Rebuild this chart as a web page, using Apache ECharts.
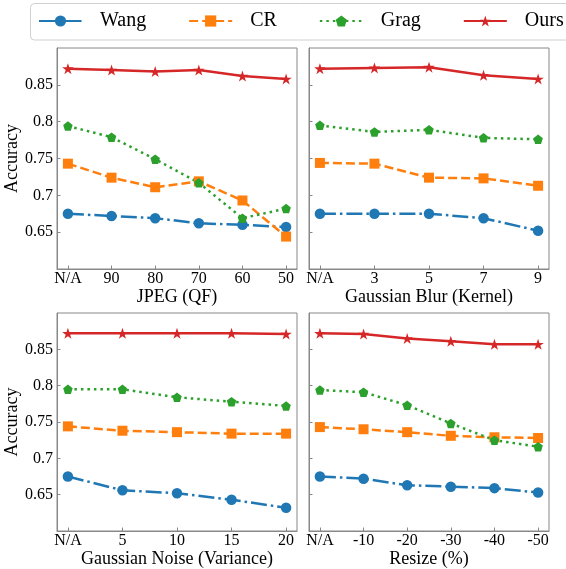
<!DOCTYPE html>
<html>
<head>
<meta charset="utf-8">
<script src="https://cdn.jsdelivr.net/npm/echarts@6/dist/echarts.min.js"></script>
<style>
  html, body { margin: 0; padding: 0; background: #fff; }
  #chart { width: 566px; height: 569px; }
</style>
</head>
<body>
<div id="chart"></div>
<script>
  // tick labels for each panel
  const jpegLabels = ['N/A', '90', '80', '70', '60', '50'];
  const blurLabels = ['N/A', '3', '5', '7', '9'];
  const noiseLabels = ['N/A', '5', '10', '15', '20'];
  const resizeLabels = ['N/A', '-10', '-20', '-30', '-40', '-50'];
  const yTicks = [0.65, 0.7, 0.75, 0.8, 0.85];

  // JPEG (QF)
  const wangJpeg = [0.675, 0.672, 0.669, 0.662, 0.660, 0.657];
  const crJpeg = [0.743, 0.724, 0.711, 0.719, 0.693, 0.644];
  const gragJpeg = [0.794, 0.779, 0.749, 0.717, 0.669, 0.682];
  const oursJpeg = [0.872, 0.870, 0.868, 0.870, 0.862, 0.858];

  // Gaussian Blur (Kernel)
  const wangBlur = [0.675, 0.675, 0.675, 0.669, 0.652];
  const crBlur = [0.744, 0.743, 0.724, 0.723, 0.713];
  const gragBlur = [0.795, 0.786, 0.789, 0.778, 0.776];
  const oursBlur = [0.872, 0.873, 0.874, 0.863, 0.858];

  // Gaussian Noise (Variance)
  const wangNoise = [0.675, 0.656, 0.652, 0.643, 0.632];
  const crNoise = [0.744, 0.738, 0.736, 0.734, 0.734];
  const gragNoise = [0.795, 0.795, 0.784, 0.778, 0.772];
  const oursNoise = [0.872, 0.872, 0.872, 0.872, 0.871];

  // Resize (%)
  const wangResize = [0.675, 0.672, 0.663, 0.661, 0.659, 0.653];
  const crResize = [0.743, 0.740, 0.736, 0.731, 0.729, 0.728];
  const gragResize = [0.794, 0.791, 0.773, 0.748, 0.725, 0.716];
  const oursResize = [0.872, 0.871, 0.865, 0.861, 0.857, 0.857];

  const FONT = '"Liberation Serif", "DejaVu Serif", serif';
  const SPINE = '#888';
  const pentagon = 'path://M0,-1 L0.951,-0.309 L0.588,0.809 L-0.588,0.809 L-0.951,-0.309 Z';
  const star = 'path://M0,-1 L0.2245,-0.309 L0.951,-0.309 L0.363,0.118 L0.588,0.809 L0,0.382 L-0.588,0.809 L-0.363,0.118 L-0.951,-0.309 L-0.2245,-0.309 Z';

  const methods = [
    { name: 'Wang', color: '#1f77b4', symbol: 'circle', size: 10.5, dash: [16, 4, 2.5, 4] },
    { name: 'CR', color: '#ff7f0e', symbol: 'rect', size: 10, dash: [9, 4] },
    { name: 'Grag', color: '#2ca02c', symbol: pentagon, size: 9.5, dash: [2.5, 4] },
    { name: 'Ours', color: '#d62728', symbol: star, size: [11.5, 11], dash: 'solid' }
  ];

  const panels = [
    { labels: jpegLabels, title: 'JPEG (QF)', data: [wangJpeg, crJpeg, gragJpeg, oursJpeg], left: 57, top: 48, yLabel: true },
    { labels: blurLabels, title: 'Gaussian Blur (Kernel)', data: [wangBlur, crBlur, gragBlur, oursBlur], left: 309, top: 48, yLabel: false },
    { labels: noiseLabels, title: 'Gaussian Noise (Variance)', data: [wangNoise, crNoise, gragNoise, oursNoise], left: 57, top: 313, yLabel: true },
    { labels: resizeLabels, title: 'Resize (%)', data: [wangResize, crResize, gragResize, oursResize], left: 309, top: 313, yLabel: false }
  ];

  const grid = [], xAxis = [], yAxis = [], series = [];
  panels.forEach(function (p, k) {
    const n = p.labels.length;
    const pad = (n - 1) * 0.05;
    const idx = p.labels.map(function (_, i) { return i; });
    grid.push({ left: p.left, top: p.top, width: 240, height: 221, show: true, borderColor: SPINE, borderWidth: 1 });
    xAxis.push({
      type: 'value', gridIndex: k, min: -pad, max: n - 1 + pad,
      name: p.title, nameLocation: 'middle', nameGap: 19,
      nameTextStyle: { fontFamily: FONT, fontSize: 18, color: '#000' },
      axisLine: { show: true, onZero: false, lineStyle: { color: SPINE } },
      axisTick: { show: true, inside: true, length: 3.5, customValues: idx, lineStyle: { color: SPINE } },
      axisLabel: {
        customValues: idx, margin: 2, fontFamily: FONT, fontSize: 16, color: '#000',
        formatter: function (v) { return p.labels[Math.round(v)]; }
      },
      splitLine: { show: false }
    });
    yAxis.push({
      type: 'value', gridIndex: k, min: 0.6, max: 0.9,
      name: p.yLabel ? 'Accuracy' : '', nameLocation: 'middle', nameGap: 29, nameRotate: 90,
      nameTextStyle: { fontFamily: FONT, fontSize: 18, color: '#000' },
      axisLine: { show: true, onZero: false, lineStyle: { color: SPINE } },
      axisTick: { show: true, inside: true, length: 3.5, customValues: yTicks, lineStyle: { color: SPINE } },
      axisLabel: {
        show: p.yLabel, customValues: yTicks, margin: 4, fontFamily: FONT, fontSize: 16, color: '#000',
        formatter: function (v) { return String(Number(v.toFixed(2))); }
      },
      splitLine: { show: false }
    });
    methods.forEach(function (m, j) {
      series.push({
        name: m.name, type: 'line', xAxisIndex: k, yAxisIndex: k,
        data: p.data[j].map(function (v, i) { return [i, v]; }),
        symbol: m.symbol, symbolSize: m.size, showSymbol: true,
        itemStyle: { color: m.color },
        lineStyle: { color: m.color, width: 2.5, type: m.dash },
        emphasis: { disabled: true }
      });
    });
  });

  const chart = echarts.init(document.getElementById('chart'));
  chart.setOption({
    animation: false,
    backgroundColor: '#fff',
    graphic: [{
      type: 'rect', shape: { x: 30.5, y: 3.5, width: 560, height: 36.5, r: 4 },
      style: { fill: '#fff', stroke: '#d0d0d0', lineWidth: 1 }, z: -1
    }],
    legend: {
      data: methods.map(function (m) { return m.name; }),
      left: 38, top: 11, padding: 0, itemWidth: 43, itemHeight: 14, itemGap: 42,
      textStyle: { fontFamily: FONT, fontSize: 20, color: '#000', padding: [0, 0, 0, 13] }
    },
    grid: grid,
    xAxis: xAxis,
    yAxis: yAxis,
    series: series
  });
</script>
</body>
</html>
